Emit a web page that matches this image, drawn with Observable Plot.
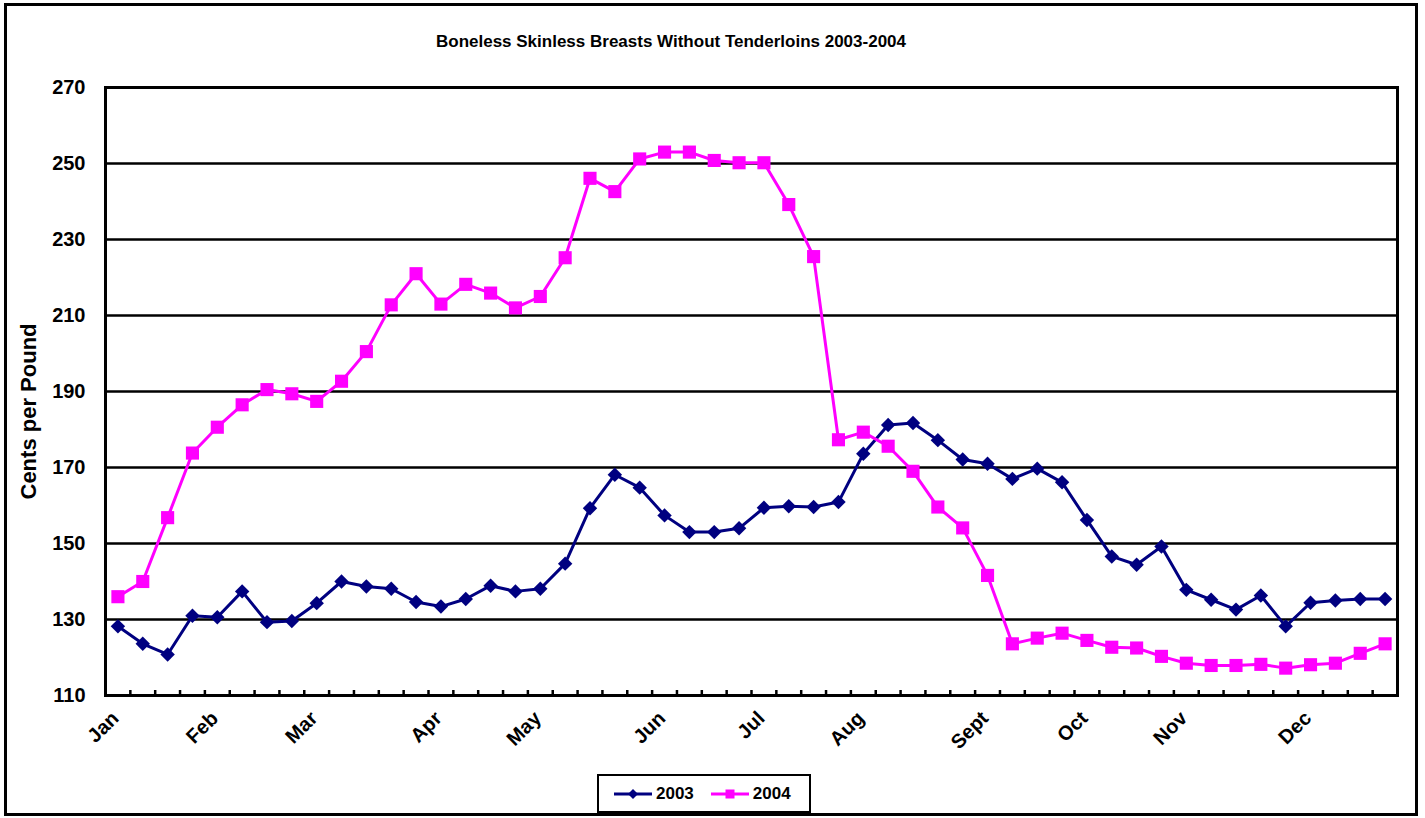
<!DOCTYPE html>
<html><head><meta charset="utf-8">
<script src="https://cdn.jsdelivr.net/npm/d3@7"></script>
<script src="https://cdn.jsdelivr.net/npm/@observablehq/plot@0.6"></script>
<style>
html,body{margin:0;padding:0;background:#fff;}
#wrap{position:relative;width:1425px;height:818px;overflow:hidden;font-family:"Liberation Sans",Arial,sans-serif;font-weight:bold;color:#000;background:#fff;}
#border{position:absolute;left:4px;top:3px;width:1414px;height:813px;border:3px solid #000;box-sizing:border-box;pointer-events:none;}
#title{position:absolute;left:0;top:32px;width:1342px;text-align:center;font-size:17px;line-height:20px;}
#chart{position:absolute;left:0;top:60px;}
#legend{position:absolute;left:597px;top:774px;width:214px;height:39px;border:2px solid #000;box-sizing:border-box;display:flex;align-items:center;padding-left:15px;font-size:17px;background:#fff;}
#legend svg{display:block;}
.lab{margin-left:4px;}
</style></head>
<body>
<div id="wrap">
  <div id="title">Boneless Skinless Breasts Without Tenderloins 2003-2004</div>
  <div id="chart"></div>
  <div id="legend"></div>
  <div id="border"></div>
</div>
<script>
// ---- data ----
const weeks = d3.range(52);
const months = ["Jan","Feb","Mar","Apr","May","Jun","Jul","Aug","Sept","Oct","Nov","Dec"];
const monthWeek = [0,4,8,13,17,22,26,30,35,39,43,48];
const yTicks = [110,130,150,170,190,210,230,250,270];
const seriesNames = ["2003","2004"];
const values2003 = [128.2,123.6,120.8,131,130.6,137.4,129.3,129.6,134.3,140,
  138.7,138.1,134.6,133.4,135.4,138.9,137.4,138.1,144.7,159.3,
  168.1,164.7,157.4,153,153,154,159.4,159.8,159.6,160.9,
  173.6,181.2,181.7,177.2,172.1,171,167,169.7,166.1,156.2,
  146.6,144.4,149.2,137.8,135.2,132.6,136.3,128.2,134.4,135,
  135.4,135.4];
const values2004 = [136,140,156.8,173.8,180.6,186.5,190.5,189.4,187.4,192.7,
  200.5,212.8,221,213,218.2,215.9,212,215,225.2,246.1,
  242.6,251.2,253,253,250.8,250.2,250.2,239.2,225.5,177.3,
  179.3,175.6,169,159.6,154.1,141.6,123.6,125.1,126.4,124.5,
  122.7,122.5,120.3,118.5,117.9,117.9,118.2,117.2,118.1,118.5,
  121.1,123.6];

const NAVY = "#000080", PINK = "#FF00FF";
const rows2003 = weeks.map((w,i) => ({w, v: values2003[i]}));
const rows2004 = weeks.map((w,i) => ({w, v: values2004[i]}));
const monthRows = months.map((m,i) => ({m, w: monthWeek[i]}));
const boundaries = d3.range(1, weeks.length).map(k => k - 0.5);

const W = 1425, H = 705, mt = 27, mb = 70, ml = 105, mr = 28;
const font = "'Liberation Sans', Arial, sans-serif";

const chart = Plot.plot({
  width: W, height: H,
  marginTop: mt, marginBottom: mb, marginLeft: ml, marginRight: mr,
  style: {fontFamily: font, fontWeight: "bold", fontSize: "20px", color: "#000", background: "transparent", overflow: "visible"},
  x: {domain: [-0.5, weeks.length - 0.5], axis: null},
  y: {domain: [yTicks[0], yTicks[yTicks.length-1]], axis: null},
  marks: [
    Plot.ruleY(yTicks, {stroke: "#000", strokeWidth: 2.5}),
    Plot.ruleX(boundaries, {insetTop: H - mt - mb - 5, stroke: "#000", strokeWidth: 2.5}),
    Plot.frame({stroke: "#000", strokeWidth: 3}),
    Plot.axisY({ticks: yTicks, tickSize: 0, tickPadding: 20, fontSize: 20, fontWeight: "bold", label: null}),
    Plot.text(monthRows, {x: "w", text: "m", frameAnchor: "bottom", dy: 24, dx: 2, rotate: -45, textAnchor: "end", fontSize: 20, fontWeight: "bold"}),
    Plot.text(["Cents per Pound"], {frameAnchor: "left", dx: -77, dy: 20, rotate: -90, textAnchor: "middle", fontSize: 22, fontWeight: "bold"}),
    Plot.line(rows2003, {x: "w", y: "v", stroke: NAVY, strokeWidth: 3}),
    Plot.dot(rows2003, {x: "w", y: "v", symbol: "diamond2", r: 6.5, fill: NAVY}),
    Plot.line(rows2004, {x: "w", y: "v", stroke: PINK, strokeWidth: 3}),
    Plot.dot(rows2004, {x: "w", y: "v", symbol: "square", r: 7.4, fill: PINK})
  ]
});
document.getElementById("chart").appendChild(chart);

// ---- legend ----
const legend = d3.select("#legend");
const items = [
  {name: seriesNames[0], color: NAVY, sym: "diamond"},
  {name: seriesNames[1], color: PINK, sym: "square"}
];
items.forEach((it, i) => {
  const s = legend.append("svg").attr("width", 38).attr("height", 14)
    .style("margin-left", i === 0 ? "0px" : "17px");
  s.append("line").attr("x1", 0).attr("x2", 38).attr("y1", 7).attr("y2", 7)
    .attr("stroke", it.color).attr("stroke-width", 3);
  if (it.sym === "diamond") {
    s.append("path").attr("d", "M19,2 L24,7 L19,12 L14,7 Z").attr("fill", it.color);
  } else {
    s.append("rect").attr("x", 14.5).attr("y", 2.5).attr("width", 9).attr("height", 9).attr("fill", it.color);
  }
  legend.append("span").attr("class", "lab").text(it.name);
});
</script>
</body></html>
